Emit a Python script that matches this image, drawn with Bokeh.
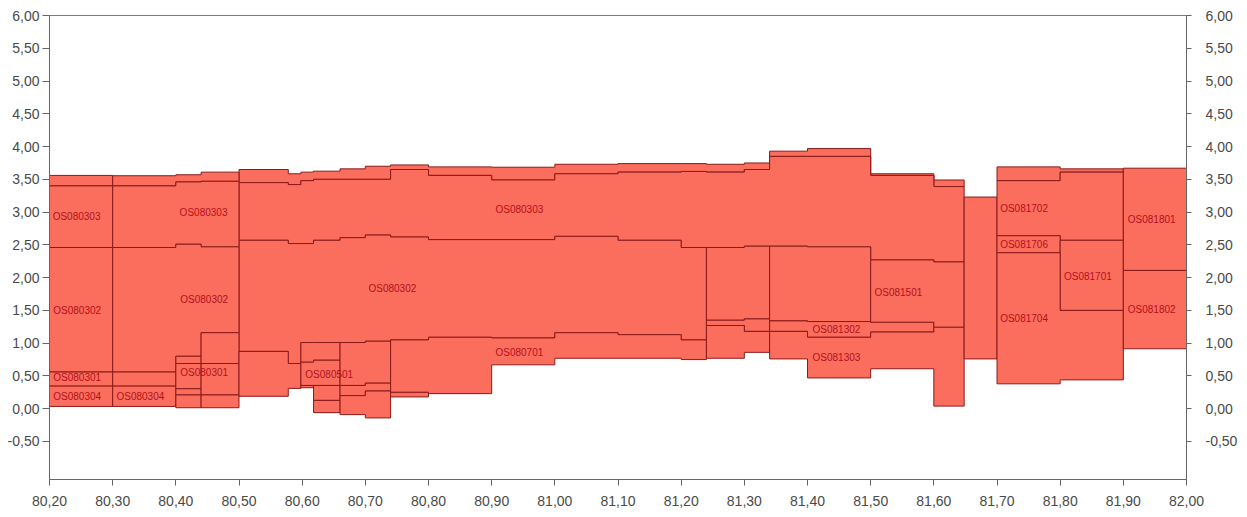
from bokeh.plotting import figure
from bokeh.models import ColumnDataSource, LinearAxis, FixedTicker
from bokeh.core.properties import value
from bokeh.embed import file_html
from bokeh.resources import INLINE

# ---------------- data ----------------
X_TICKS = [80.2, 80.3, 80.4, 80.5, 80.6, 80.7, 80.8, 80.9, 81.0, 81.1,
           81.2, 81.3, 81.4, 81.5, 81.6, 81.7, 81.8, 81.9, 82.0]
X_TICK_LABELS = ["80,20", "80,30", "80,40", "80,50", "80,60", "80,70", "80,80",
                 "80,90", "81,00", "81,10", "81,20", "81,30", "81,40", "81,50",
                 "81,60", "81,70", "81,80", "81,90", "82,00"]
Y_TICKS = [-0.5, 0.0, 0.5, 1.0, 1.5, 2.0, 2.5, 3.0, 3.5, 4.0, 4.5, 5.0, 5.5, 6.0]
Y_TICK_LABELS = ["-0,50", "0,00", "0,50", "1,00", "1,50", "2,00", "2,50",
                 "3,00", "3,50", "4,00", "4,50", "5,00", "5,50", "6,00"]

# breakpoints of the upper band (80.50 - 81.648)
BAND_X = [80.50, 80.578, 80.598, 80.618, 80.66, 80.70, 80.74, 80.80, 80.90,
          81.00, 81.10, 81.20, 81.24, 81.30, 81.34, 81.40, 81.50, 81.60, 81.648]
BAND_TOP = [3.65, 3.585, 3.61, 3.625, 3.66, 3.70, 3.72, 3.69, 3.685, 3.73,
            3.74, 3.74, 3.73, 3.75, 3.93, 3.97, 3.585, 3.49]
BAND_303_TOP = [3.45, 3.42, 3.48, 3.50, 3.50, 3.50, 3.65, 3.56, 3.49, 3.585,
                3.61, 3.62, 3.61, 3.65, 3.85, 3.85, 3.56, 3.39]
BAND_303_BOT = [2.57, 2.52, 2.52, 2.57, 2.61, 2.65, 2.62, 2.58, 2.58, 2.63,
                2.57, 2.46, 2.46, 2.48, 2.48, 2.47, 2.27, 2.24]
BIG_302_BOT = [0.875, 0.69, 1.01, 1.01, 1.01, 1.03, 1.05, 1.09, 1.08, 1.16,
               1.13, 1.05]

# other units: x breakpoints, tops, bottoms (one entry per segment)
UNIT_X = [
    [80.20, 80.30], [80.20, 80.30], [80.20, 80.30], [80.20, 80.30], [80.20, 80.30],
    [80.30, 80.40, 80.44, 80.50], [80.30, 80.40, 80.44, 80.50],
    [80.30, 80.40, 80.44, 80.50],
    [80.30, 80.40], [80.30, 80.40],
    [80.40, 80.44], [80.40, 80.44], [80.40, 80.44], [80.40, 80.44],
    [80.44, 80.50], [80.44, 80.50], [80.44, 80.50],
    [80.50, 80.578, 80.598],
    [80.598, 80.618, 80.66], [80.598, 80.618, 80.66],
    [80.598, 80.618], [80.618, 80.66], [80.618, 80.66],
    [80.66, 80.70, 80.74], [80.66, 80.70, 80.74], [80.66, 80.70, 80.74],
    [80.74, 80.80, 80.90, 81.00, 81.10, 81.20, 81.24],
    [80.74, 80.80],
    [81.24, 81.30, 81.34], [81.24, 81.30, 81.34], [81.24, 81.30, 81.34],
    [81.34, 81.40, 81.50],
    [81.34, 81.40, 81.50, 81.60],
    [81.34, 81.40, 81.50, 81.60, 81.648],
    [81.50, 81.60, 81.648],
    [81.648, 81.70],
    [81.70, 81.80, 81.90], [81.70, 81.80, 81.90], [81.70, 81.80],
    [81.80, 81.90], [81.70, 81.80, 81.90],
    [81.90, 82.00], [81.90, 82.00],
]
UNIT_TOP = [
    [3.56], [3.40], [2.46], [0.56], [0.345],
    [3.555, 3.57, 3.61], [3.40, 3.46, 3.47], [2.46, 2.51, 2.47],
    [0.56], [0.345],
    [0.80], [0.69], [0.305], [0.21],
    [1.16], [0.69], [0.21],
    [0.875, 0.69],
    [1.01, 1.01], [0.71, 0.74],
    [0.355], [0.355], [0.127],
    [1.01, 1.03], [0.355, 0.39], [0.20, 0.27],
    [1.05, 1.09, 1.08, 1.16, 1.13, 1.05],
    [0.25],
    [2.46, 2.48], [1.35, 1.37], [1.27, 1.18],
    [2.48, 2.47],
    [1.34, 1.33, 1.32],
    [1.18, 1.09, 1.17, 1.245],
    [2.27, 2.24],
    [3.23],
    [3.69, 3.66], [3.48, 3.61], [2.64],
    [2.57], [2.38, 1.50],
    [3.67], [2.11],
]
UNIT_BOT = [
    [3.40], [2.46], [0.56], [0.345], [0.035],
    [3.40, 3.46, 3.47], [2.46, 2.51, 2.47], [0.56, 0.80, 1.16],
    [0.345], [0.035],
    [0.69], [0.305], [0.21], [0.015],
    [0.69], [0.21], [0.015],
    [0.19, 0.31],
    [0.71, 0.74], [0.355, 0.355],
    [0.32], [0.127], [-0.06],
    [0.355, 0.39], [0.20, 0.27], [-0.09, -0.14],
    [0.25, 0.23, 0.67, 0.77, 0.77, 0.75],
    [0.18],
    [1.35, 1.37], [1.27, 1.18], [0.77, 0.86],
    [1.34, 1.33],
    [1.18, 1.09, 1.17],
    [0.76, 0.47, 0.61, 0.04],
    [1.32, 1.245],
    [0.76],
    [3.48, 3.61], [2.64, 2.57], [2.38],
    [1.50], [0.38, 0.44],
    [2.11], [0.915],
]

LABEL_TEXT = ["OS080303", "OS080303", "OS080302", "OS080302", "OS080302",
              "OS080301", "OS080304", "OS080304", "OS080301", "OS080501",
              "OS080303", "OS080701", "OS081302", "OS081303", "OS081501",
              "OS081702", "OS081706", "OS081704", "OS081701", "OS081801",
              "OS081802"]
LABEL_X = [80.205, 80.406, 80.206, 80.407, 80.705, 80.206, 80.206, 80.306,
           80.407, 80.605, 80.906, 80.906, 81.408, 81.408, 81.506, 81.705,
           81.705, 81.705, 81.806, 81.907, 81.907]
LABEL_Y = [2.93, 2.99, 1.50, 1.66, 1.84, 0.47, 0.19, 0.19, 0.56, 0.52, 3.04,
           0.86, 1.21, 0.78, 1.78, 3.06, 2.51, 1.37, 2.02, 2.88, 1.51]

FILL = "#fb6d5c"
EDGE = "#8a1a1a"
LABEL_COLOR = "#b3101c"
AXIS_COLOR = "#666666"
TICK_TEXT = "#4a4a4a"


def stepped(xs, tops, bots):
    px, py = [], []
    for i in range(len(tops)):
        px += [xs[i], xs[i + 1]]
        py += [tops[i], tops[i]]
    for i in reversed(range(len(bots))):
        px += [xs[i + 1], xs[i]]
        py += [bots[i], bots[i]]
    return px, py


polys_x, polys_y = [], []
# upper band: cap, OS080303 and the big OS080302 unit
for tops, bots, xs in [
    (BAND_TOP, BAND_303_TOP, BAND_X),
    (BAND_303_TOP, BAND_303_BOT, BAND_X),
    (BAND_303_BOT[:12], BIG_302_BOT, BAND_X[:13]),
]:
    a, b = stepped(xs, tops, bots)
    polys_x.append(a)
    polys_y.append(b)
for xs, tops, bots in zip(UNIT_X, UNIT_TOP, UNIT_BOT):
    a, b = stepped(xs, tops, bots)
    polys_x.append(a)
    polys_y.append(b)

src = ColumnDataSource(dict(xs=polys_x, ys=polys_y))
lab = ColumnDataSource(dict(x=LABEL_X, y=LABEL_Y, t=LABEL_TEXT))

p = figure(x_range=(80.2, 82.0), y_range=(-1.08, 6.0),
           frame_width=1137, frame_height=464,
           output_backend="svg", toolbar_location=None,
           min_border_left=49, min_border_right=0, min_border_top=15,
           min_border_bottom=0)
p.grid.visible = False
p.outline_line_color = "#6d8093"
p.outline_line_width = 1
p.background_fill_color = "white"
p.border_fill_color = "white"

p.patches(xs="xs", ys="ys", source=src, fill_color=FILL, fill_alpha=1.0,
          line_color=EDGE, line_width=1)
p.text(x="x", y="y", text="t", source=lab, text_font=value("Liberation Sans"),
       text_font_size="10px", text_color=LABEL_COLOR, text_baseline="middle",
       text_align="left")

right_axis = LinearAxis()
p.add_layout(right_axis, "right")


def style_axis(ax, ticks, labels, tick_out, standoff):
    ax.ticker = FixedTicker(ticks=ticks)
    ax.major_label_overrides = {t: l for t, l in zip(ticks, labels)}
    ax.axis_line_color = AXIS_COLOR
    ax.major_tick_line_color = AXIS_COLOR
    ax.major_tick_out = tick_out
    ax.major_tick_in = 0
    ax.minor_tick_line_color = None
    ax.major_label_text_font = "Liberation Sans"
    ax.major_label_text_font_size = "14px"
    ax.major_label_text_color = TICK_TEXT
    ax.major_label_standoff = standoff


style_axis(p.xaxis[0], X_TICKS, X_TICK_LABELS, 6, 10)
style_axis(p.yaxis[0], Y_TICKS, Y_TICK_LABELS, 7, 3)
style_axis(right_axis, Y_TICKS, Y_TICK_LABELS, 5, 14)

open("out.html", "w").write(file_html(p, INLINE))
